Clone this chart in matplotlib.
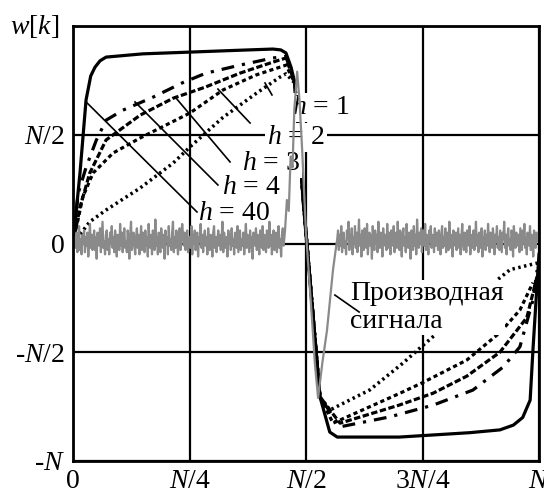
import numpy as np
import matplotlib
matplotlib.use('Agg')
import matplotlib.pyplot as plt

plt.rcParams['font.family'] = ['Liberation Serif', 'DejaVu Serif']
plt.rcParams['mathtext.fontset'] = 'custom'
plt.rcParams['mathtext.rm'] = 'Liberation Serif'
plt.rcParams['mathtext.it'] = 'Liberation Serif:italic'

FS = 20

# w[k] curves, k in units of N, w in units of N
x_h40 = [0.0, 0.015, 0.028, 0.038, 0.047, 0.058, 0.071, 0.15, 0.251, 0.35, 0.429, 0.446, 0.457, 0.468,
         0.476, 0.494, 0.512, 0.53, 0.551, 0.567, 0.70, 0.85, 0.916, 0.945, 0.965, 0.981, 0.987, 0.996, 1.0]
y_h40 = [0.0, 0.324, 0.66, 0.77, 0.81, 0.84, 0.857, 0.872, 0.88, 0.888, 0.894, 0.89, 0.876, 0.81,
         0.738, 0.2, -0.25, -0.705, -0.867, -0.89, -0.89, -0.87, -0.857, -0.835, -0.80, -0.72, -0.49, -0.18, -0.05]

x_h4 = [0.0, 0.011, 0.028, 0.05, 0.071, 0.107, 0.172, 0.236, 0.285, 0.358, 0.429, 0.457, 0.476, 0.494,
        0.53, 0.573, 0.68, 0.773, 0.858, 0.923, 0.959, 0.987, 0.996]
y_h4 = [0.0, 0.23, 0.35, 0.475, 0.567, 0.613, 0.673, 0.74, 0.783, 0.82, 0.853, 0.86, 0.738, 0.2,
        -0.705, -0.843, -0.797, -0.743, -0.674, -0.568, -0.475, -0.26, -0.122]

x_h3 = [0.0, 0.015, 0.036, 0.071, 0.144, 0.215, 0.285, 0.358, 0.429, 0.457, 0.476, 0.494,
        0.53, 0.573, 0.70, 0.773, 0.845, 0.916, 0.974, 0.996]
y_h3 = [0.0, 0.167, 0.324, 0.476, 0.59, 0.668, 0.72, 0.783, 0.834, 0.853, 0.738, 0.2,
        -0.705, -0.826, -0.743, -0.688, -0.61, -0.5, -0.34, -0.15]

x_h2 = [0.0, 0.021, 0.043, 0.086, 0.144, 0.251, 0.322, 0.393, 0.457, 0.476, 0.494,
        0.53, 0.558, 0.70, 0.75, 0.845, 0.916, 0.959, 0.987]
y_h2 = [0.0, 0.214, 0.324, 0.416, 0.485, 0.6, 0.706, 0.775, 0.82, 0.738, 0.2,
        -0.705, -0.826, -0.69, -0.64, -0.536, -0.41, -0.306, -0.18]

x_h1 = [0.0, 0.036, 0.071, 0.144, 0.215, 0.251, 0.322, 0.393, 0.444, 0.457, 0.476, 0.494,
        0.53, 0.551, 0.637, 0.708, 0.75, 0.815, 0.880, 0.938, 0.996]
y_h1 = [0.0, 0.1, 0.154, 0.255, 0.37, 0.444, 0.58, 0.69, 0.765, 0.78, 0.738, 0.2,
        -0.705, -0.766, -0.673, -0.55, -0.47, -0.35, -0.22, -0.12, -0.09]

# derivative of the signal (grey), noise in hundredths of N
noise_left = [3, -2, 5, -4, 1, 8, -3, 2, -5, 4, 0, 6, -4, 3, -1, 5, -6, 2, 9, -2, 4, -3, 1, 6, -3,
              3, -7, 5, 2, -1, 7, -4, 3, 10, -2, 1, -5, 4, 6, -3, 2, -5, 5, 0, 8, -2, 3, -4, 6, 1,
              -6, 4, 2, -3, 9, -1, 5, -4, 3, 7, -2, 1, -4, 6, 2, -7, 4, 10, -3, 2, 5, -1, -5, 3, 7,
              -2, 4, -5, 1, 8, -3, 5, 2, -4, 6, -1, 3, -6, 9, 1, -2, 4, -5, 6, 2, -3, 11, -1, 3, -5,
              5, 0, -4, 7, 2, -2, 4, -7, 6, 1, 3, -5, 8, -1, 2, -3, 5, 10, -4, 3, -2, 6, 1, -5, 4,
              7, -3, 2, 9, 4, -1, 5, -3, 2, 6, -4, 1, 3, -2, 8, -5, 4, 0, 6, -3, 2, 5, -6, 3, 1,
              9, -2, 4, -4, 2, 6, -1, 3, -5, 7, 1, -3, 4, 2, -6, 5, 8, -2, 3, -4, 1, 6, -1, 4, -3,
              2, 10, -4, 5, 1, -2, 3, -6, 6, 0, 4, -3, 7, -1, 2, -5, 5, 3, -2, 8, -4, 1, 6, -3, 2,
              -1, 5, -5, 3, 9, -2, 4, 1, -4, 6, -2, 3, -7, 5, 2, -1, 7, -3, 4, 0, -5, 6, 2, -2, 8,
              -3, 4, 1, -4, 6, 3, -2, 10, -1, 4, -5, 2, 6, -3, 1, 5, -4, 3, 8, -2, 2, -6, 4, 7, -1]
x_rise = [0.455, 0.459, 0.463, 0.467, 0.471, 0.475, 0.478, 0.481, 0.486, 0.492, 0.50,
          0.512, 0.519, 0.526, 0.535, 0.545, 0.552, 0.558, 0.563]
y_rise = [0.06, 0.2, 0.15, 0.4, 0.35, 0.62, 0.7, 0.79, 0.66, 0.42, 0.05,
          -0.32, -0.55, -0.71, -0.55, -0.40, -0.25, -0.12, -0.04]
noise_right = [2, 6, -3, 4, -1, 8, -4, 3, 5, -2, 1, -5, 6, 2, 10, -3, 4, -1, 7, -5, 3, 0, 8, -2, 5,
               -4, 2, 11, -1, 4, -6, 6, 1, -3, 7, 3, -2, 9, -5, 2, 5, -1, 4, -7, 8, 2, -3, 6, 0, 4,
               -4, 10, 1, -2, 5, 3, -6, 7, -1, 4, 2, -3, 9, -2, 5, 1, -5, 6, 3, -1, 8, -4, 2, 5, -2,
               10, 0, -3, 6, 2, -6, 4, 7, -1, 3, -4, 9, 1, -2, 5, 3, -7, 6, 2, -3, 8, -1, 4, -5, 11,
               2, -2, 5, 0, 7, -4, 3, 6, -1, 9, -3, 4, 2, -5, 6, 1, 8, -2, 4, 3, -4, 7, -1, 5, 2,
               -3, 6, 1, -5, 4, 8, -2, 3, -1, 7, -4, 2, 5, -3, 10, 1, -2, 4, -6, 6, 3, -1, 5, -3, 2,
               7, -2, 4, -5, 3, 9, 0, -3, 5, 2, -4, 6, 1, -1, 8, -5, 3, 4, -2, 6, -3, 2, 10, -1, 4,
               -4, 5, 2, -2, 7, -6, 3, 1, 6, -3, 4, -1, 9, 2, -4, 5, 0, -2, 7, 3, -5, 4, 1, 8, -2,
               3, -3, 6, 1, -4, 5, 2, 10, -2, 4, -5, 3, 7, -1, 2, -3, 6, 4, -6, 8, 1, -2, 5, 3, -1,
               4, -4, 7, 2, -3, 6, 0, 9, -2, 3, -5, 5, 1, -1, 8, -3, 4, 2, -6, 6, 3, -2, 5, 1, 4]

xticks = [0, 0.25, 0.5, 0.75, 1.0]
xtick_labels = ['0', '$N$/4', '$N$/2', '3$N$/4', '$N$']
yticks = [-1.0, -0.5, 0.0, 0.5, 1.0]
ytick_labels = ['-$N$', '-$N$/2', '0', '$N$/2', '']

# labels: text, position, leader line start/end
h_labels = ['$h$ = 1', '$h$ = 2', '$h$ = 3', '$h$ = 4', '$h$ = 40']
h_label_pos = [(0.470, 0.627), (0.416, 0.489), (0.363, 0.369), (0.320, 0.258), (0.268, 0.139)]
leader_start = [(0.412, 0.738), (0.311, 0.71), (0.219, 0.674), (0.133, 0.651), (0.028, 0.651)]
leader_end = [(0.427, 0.683), (0.38, 0.554), (0.337, 0.375), (0.311, 0.269), (0.266, 0.145)]

fig = plt.figure(figsize=(5.44, 4.88), dpi=100)
ax = fig.add_axes([73 / 544, 1 - 461 / 488, 466 / 544, 435 / 488])

ax.set_xlim(0, 1)
ax.set_ylim(-1, 1)
ax.set_xticks(xticks)
ax.set_xticklabels(xtick_labels, fontsize=FS)
ax.set_yticks(yticks)
ax.set_yticklabels(ytick_labels, fontsize=FS)
ax.tick_params(length=0, pad=6)
ax.grid(True, color='k', lw=1.6, zorder=1)
ax.set_axisbelow(True)
for s in ax.spines.values():
    s.set_linewidth(2.0)
    s.set_zorder(6)

lw = 2.3
ax.plot(x_h40, y_h40, color='k', lw=lw, ls='-', zorder=2, solid_joinstyle='round')
ax.plot(x_h4, y_h4, color='k', lw=lw, ls=(0, (4, 2.5, 1, 2.5)), zorder=2)
ax.plot(x_h3, y_h3, color='k', lw=lw, ls=(0, (2, 0.8)), zorder=2)
ax.plot(x_h2, y_h2, color='k', lw=lw, ls=(0, (1.3, 1)), zorder=2)
ax.plot(x_h1, y_h1, color='k', lw=2.5, ls=(0, (0.7, 1.0)), zorder=2)

x_left = np.linspace(0.004, 0.452, len(noise_left))
x_right = np.linspace(0.567, 0.998, len(noise_right))
gx = np.concatenate([x_left, x_rise, x_right])
gy = np.concatenate([np.array(noise_left) / 100, y_rise, np.array(noise_right) / 100])
ax.plot(gx, gy, color='#8a8a8a', lw=1.6, zorder=4)

for txt, pos, p0, p1 in zip(h_labels, h_label_pos, leader_start, leader_end):
    ax.text(pos[0], pos[1], txt, fontsize=FS, ha='left', va='center', zorder=3,
            bbox=dict(facecolor='white', edgecolor='none', pad=1.5))
    ax.plot([p0[0], p1[0]], [p0[1], p1[1]], color='k', lw=1.2, zorder=5)

ax.text(0.595, -0.295, 'Производная\nсигнала', fontsize=FS, ha='left', va='center',
        linespacing=1.15, zorder=3, bbox=dict(facecolor='white', edgecolor='none', pad=1.0))
ax.plot([0.562, 0.614], [-0.237, -0.315], color='k', lw=1.2, zorder=5)

fig.text(10 / 544, 1 - 26 / 488, '$w$[$k$]', fontsize=FS, ha='left', va='center')

fig.savefig('out.png', dpi=100)
